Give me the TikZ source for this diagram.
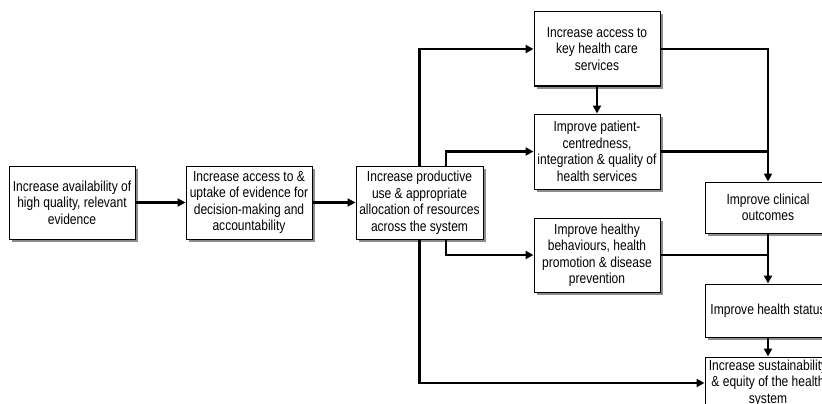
\documentclass[tikz,border=0pt]{standalone}
\usepackage{fontspec}
\setmainfont{Liberation Sans}[FakeStretch=0.83]
\usetikzlibrary{arrows.meta,shadows,calc}
\begin{document}
\begin{tikzpicture}[x=1pt,y=-1pt,
  box/.style={draw=black,line width=1pt,fill=white,align=center,inner sep=1pt,
    font=\fontsize{14.5}{16.5}\selectfont,
    drop shadow={shadow xshift=2.5pt,shadow yshift=-2.5pt,fill=black!45,opacity=1}},
  conn/.style={line width=2.2pt,-{Triangle[length=8pt,width=8pt]}},
  plain/.style={line width=2.2pt}]
\useasboundingbox (0,0) rectangle (822,404);
\clip (0,0) rectangle (822,404);
\node[box,minimum width=126pt,minimum height=73pt] (b1) at (72,202.5) {Increase availability of\\high quality, relevant\\evidence};
\node[box,minimum width=126pt,minimum height=73pt] (b2) at (249,202.5) {Increase access to \&\\uptake of evidence for\\decision-making and\\accountability};
\node[box,minimum width=127pt,minimum height=73pt] (b3) at (419.5,202.5) {Increase productive\\use \& appropriate\\allocation of resources\\across the system};
\node[box,minimum width=126pt,minimum height=74pt] (acc) at (597,49) {Increase access to\\key health care\\services};
\node[box,minimum width=126pt,minimum height=75pt] (pat) at (597,151.5) {Improve patient-\\centredness,\\integration \& quality of\\health services};
\node[box,minimum width=126pt,minimum height=74pt] (hea) at (597,255) {Improve healthy\\behaviours, health\\promotion \& disease\\prevention};
\node[box,minimum width=126pt,minimum height=51pt] (cli) at (768,207.5) {Improve clinical\\outcomes};
\node[box,minimum width=126pt,minimum height=53pt] (sta) at (768,310.5) {Improve health status};
\node[box,minimum width=126pt,minimum height=52pt] (sus) at (768,383) {Increase sustainability\\\& equity of the health\\system};
\coordinate (b3t) at ($(b3.north)+(26.5,0)$);
\coordinate (b3b) at ($(b3.south)+(26.5,0)$);
\draw[conn] (b1.east) -- (b2.west);
\draw[conn] (b2.east) -- (b3.west);
\draw[conn] (b3.north) |- (acc.west);
\draw[conn] (b3t) |- (pat.west);
\draw[conn] (b3b) |- (hea.west);
\draw[conn] (b3.south) |- (sus.west);
\draw[conn] (acc.south) -- (pat.north);
\draw[conn] (acc.east) -| (cli.north);
\draw[plain] (pat.east) -- (pat.east -| cli.north);
\draw[plain] (hea.east) -- (hea.east -| cli.south);
\draw[conn] (cli.south) -- (sta.north);
\draw[conn] (sta.south) -- (sus.north);
\end{tikzpicture}
\end{document}
